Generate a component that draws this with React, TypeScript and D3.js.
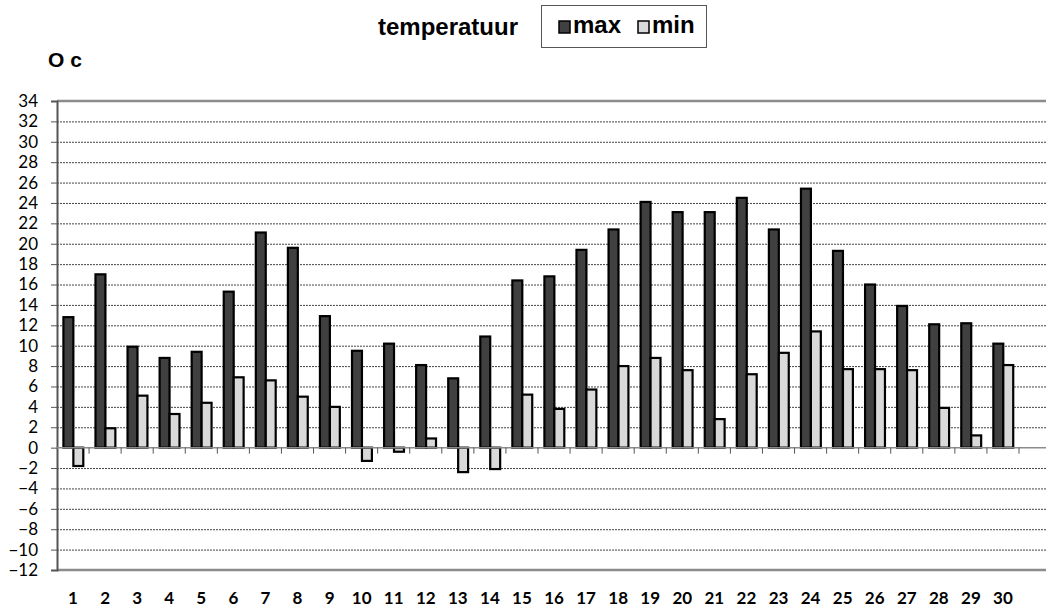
import { useEffect, useRef } from "react";
import * as d3 from "d3";

const days = d3.range(1, 31).map(String);
const maxTemp = [12.8, 17.0, 9.9, 8.8, 9.4, 15.3, 21.1, 19.6, 12.9, 9.5, 10.2, 8.1, 6.8, 10.9, 16.4, 16.8, 19.4, 21.4, 24.1, 23.1, 23.1, 24.5, 21.4, 25.4, 19.3, 16.0, 13.9, 12.1, 12.2, 10.2];
const minTemp = [-1.8, 1.9, 5.1, 3.3, 4.4, 6.9, 6.6, 5.0, 4.0, -1.3, -0.4, 0.9, -2.4, -2.1, 5.2, 3.8, 5.7, 8.0, 8.8, 7.6, 2.8, 7.2, 9.3, 11.4, 7.7, 7.7, 7.6, 3.9, 1.2, 8.1];
const yTicks = d3.range(-12, 35, 2);
const seriesNames = ["max", "min"];
const colors = { max: "#404040", min: "#d9d9d9" };

export default function App() {
  const ref = useRef(null);

  useEffect(() => {
    const svg = d3.select(ref.current);
    const width = 1046;
    const height = 608;
    const margin = { top: 101, left: 57, bottom: 38, right: 27 };
    const arial = "'Liberation Sans', Arial, sans-serif";
    const calibri = "Lato, 'Open Sans', sans-serif";

    svg.selectAll("*").remove();
    svg.attr("viewBox", `0 0 ${width} ${height}`);

    const x = d3
      .scaleBand()
      .domain(days)
      .range([margin.left, width - margin.right]);
    const x1 = d3
      .scaleBand()
      .domain(seriesNames)
      .range([x.bandwidth() * 0.2, x.bandwidth() * 0.82]);
    const y = d3.scaleLinear().domain([-12, 34]).range([height - margin.bottom, margin.top]);

    // gridlines
    svg
      .append("g")
      .selectAll("line")
      .data(yTicks.filter((d) => d !== 34 && d !== -12 && d !== 0))
      .join("line")
      .attr("x1", margin.left)
      .attr("x2", width)
      .attr("y1", (d) => y(d) + 0.5)
      .attr("y2", (d) => y(d) + 0.5)
      .attr("stroke", "#444")
      .attr("stroke-width", 1)
      .attr("stroke-dasharray", "2,1");

    // top & bottom border
    [34, -12].forEach((v) => {
      svg
        .append("line")
        .attr("x1", margin.left)
        .attr("x2", width)
        .attr("y1", y(v))
        .attr("y2", y(v))
        .attr("stroke", "#8c8c8c")
        .attr("stroke-width", 2.5);
    });

    // y axis
    svg
      .append("g")
      .attr("transform", `translate(${margin.left},0)`)
      .call(d3.axisLeft(y).tickValues(yTicks).tickSize(6).tickPadding(13).tickFormat(d3.format("d")))
      .call((g) => g.select(".domain").attr("stroke", "#555").attr("stroke-width", 2))
      .call((g) => g.selectAll(".tick line").attr("stroke", "#555"))
      .call((g) =>
        g.selectAll("text").attr("fill", "#000").style("font-family", calibri).style("font-size", "17px")
      );

    // bars
    const rows = days.map((d, i) => ({ day: d, max: maxTemp[i], min: minTemp[i] }));
    seriesNames.forEach((s) => {
      svg
        .append("g")
        .selectAll("rect")
        .data(rows)
        .join("rect")
        .attr("x", (d) => x(d.day) + x1(s))
        .attr("width", x1.bandwidth())
        .attr("y", (d) => y(Math.max(0, d[s])))
        .attr("height", (d) => Math.abs(y(d[s]) - y(0)))
        .attr("fill", colors[s])
        .attr("stroke", "#000")
        .attr("stroke-width", 2.2);
    });

    // zero axis with category ticks
    svg
      .append("line")
      .attr("x1", margin.left)
      .attr("x2", width)
      .attr("y1", y(0))
      .attr("y2", y(0))
      .attr("stroke", "#8c8c8c")
      .attr("stroke-width", 1.5);
    svg
      .append("g")
      .selectAll("line")
      .data(days)
      .join("line")
      .attr("x1", (d) => x(d) + x.bandwidth())
      .attr("x2", (d) => x(d) + x.bandwidth())
      .attr("y1", y(0))
      .attr("y2", y(0) + 6)
      .attr("stroke", "#555");

    // x labels
    svg
      .append("g")
      .selectAll("text")
      .data(days)
      .join("text")
      .attr("x", (d) => x(d) + x.bandwidth() / 2)
      .attr("y", 604)
      .attr("text-anchor", "middle")
      .style("font-family", calibri)
      .style("font-weight", "bold")
      .style("font-size", "17px")
      .text((d) => d);

    // title + legend
    svg
      .append("text")
      .attr("x", 518)
      .attr("y", 35)
      .attr("text-anchor", "end")
      .style("font-family", arial)
      .style("font-weight", "bold")
      .style("font-size", "24px")
      .text("temperatuur");

    svg
      .append("rect")
      .attr("x", 541.5)
      .attr("y", 5.5)
      .attr("width", 165)
      .attr("height", 42)
      .attr("fill", "#fff")
      .attr("stroke", "#555");

    const legend = svg
      .append("g")
      .selectAll("g")
      .data(seriesNames)
      .join("g")
      .attr("transform", (d, i) => `translate(${559 + i * 79},21)`);
    legend
      .append("rect")
      .attr("width", 11)
      .attr("height", 12)
      .attr("fill", (d) => colors[d])
      .attr("stroke", "#000")
      .attr("stroke-width", 1.5);
    legend
      .append("text")
      .attr("x", 14)
      .attr("y", 12)
      .style("font-family", arial)
      .style("font-weight", "bold")
      .style("font-size", "24px")
      .text((d) => d);

    svg
      .append("text")
      .attr("x", 48)
      .attr("y", 67)
      .style("font-family", arial)
      .style("font-weight", "bold")
      .style("font-size", "21px")
      .text("O c");
  }, []);

  return (
    <svg
      ref={ref}
      width={1046}
      height={608}
      style={{ position: "absolute", left: 0, top: 0, background: "#fff" }}
      role="img"
      aria-label="temperatuur max en min per dag"
    />
  );
}
